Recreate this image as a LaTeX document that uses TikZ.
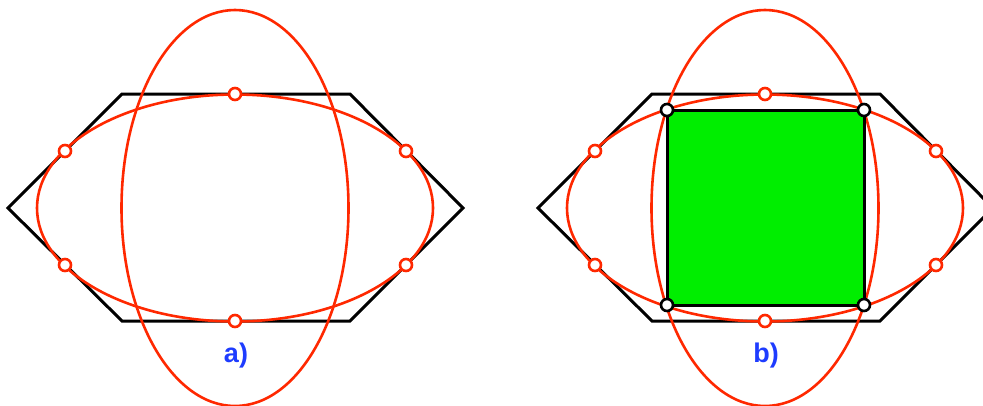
\documentclass[tikz,border=0pt]{standalone}
\usepackage{fontspec}
\setmainfont{Liberation Sans}
\definecolor{ered}{RGB}{255,40,0}
\definecolor{sqgreen}{RGB}{0,238,0}
\definecolor{lblue}{RGB}{30,60,255}
\begin{document}
\begin{tikzpicture}[x=1pt,y=-1pt,
  hexline/.style={draw=black,line width=3pt,line join=miter},
  ell/.style={draw=ered,line width=2.6pt},
  rdot/.style={circle,draw=ered,fill=white,line width=2.6pt,minimum size=12pt,inner sep=0pt},
  kdot/.style={circle,draw=black,fill=white,line width=2.6pt,minimum size=12pt,inner sep=0pt},
  lbl/.style={text=lblue,font=\fontsize{27}{30}\selectfont\bfseries}]
\useasboundingbox (0,0) rectangle (983,405);
\clip (0,0) rectangle (983,405);
% panel a
\coordinate (ca) at (235,208);
\draw[hexline] (8,208) -- (122,94) -- (350,94) -- (463,208) -- (350,321) -- (122,321) -- cycle;
\draw[ell] (ca) ellipse [x radius=198, y radius=113.5];
\draw[ell] (ca) ellipse [x radius=113.5, y radius=198];
\node[rdot] (a1) at (235,94) {};
\node[rdot] (a2) at (235,321) {};
\node[rdot] (a3) at (65,151) {};
\node[rdot] (a4) at (406,151) {};
\node[rdot] (a5) at (65,265) {};
\node[rdot] (a6) at (406,265) {};
\node[lbl] (la) at (236,356) {a)};
% panel b
\coordinate (cb) at (765,208);
\draw[hexline] (538,208) -- (652,94) -- (880,94) -- (993,208) -- (880,321) -- (652,321) -- cycle;
\draw[ell] (cb) ellipse [x radius=198, y radius=113.5];
\draw[ell] (cb) ellipse [x radius=113.5, y radius=198];
\draw[fill=sqgreen,draw=black,line width=3pt] (667,110) rectangle (864,305);
\node[rdot] (b1) at (765,94) {};
\node[rdot] (b2) at (765,321) {};
\node[rdot] (b3) at (595,151) {};
\node[rdot] (b4) at (936,151) {};
\node[rdot] (b5) at (595,265) {};
\node[rdot] (b6) at (936,265) {};
\node[kdot] (s1) at (667,110) {};
\node[kdot] (s2) at (864,110) {};
\node[kdot] (s3) at (864,305) {};
\node[kdot] (s4) at (667,305) {};
\node[lbl] (lb) at (766,356) {b)};
\end{tikzpicture}
\end{document}
